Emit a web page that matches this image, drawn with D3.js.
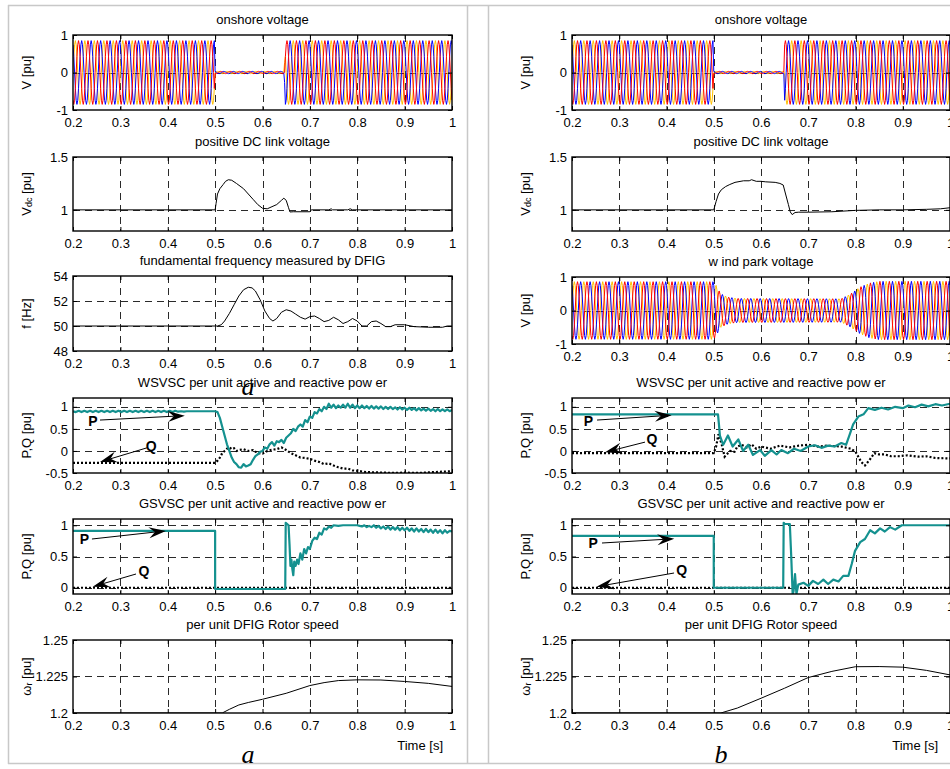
<!DOCTYPE html>
<html><head><meta charset="utf-8">
<script src="https://cdn.jsdelivr.net/npm/d3@7"></script>
<style>
body{margin:0;background:#fff}
svg{display:block}
text{font-family:"Liberation Sans",Arial,Helvetica,sans-serif;fill:#000}
</style>
</head><body><script>
// ---------------- tick labels ----------------
const xTickValues = [0.2,0.3,0.4,0.5,0.6,0.7,0.8,0.9,1.0];
const xTickLabels = ["0.2","0.3","0.4","0.5","0.6","0.7","0.8","0.9","1"];
const xGridValues = [0.3,0.4,0.5,0.6,0.7,0.8,0.9];
const voltTicks = [-1,0,1];            const voltTickLabels = ["-1","0","1"];
const vdcTicks = [1,1.5];              const vdcTickLabels = ["1","1.5"];
const freqTicks = [48,50,52,54];       const freqTickLabels = ["48","50","52","54"];
const wsTicks = [-0.5,0,0.5,1];        const wsTickLabels = ["-0.5","0","0.5","1"];
const gsTicks = [0,0.5,1];             const gsTickLabels = ["0","0.5","1"];
const wrTicks = [1.2,1.225,1.25];      const wrTickLabels = ["1.2","1.225","1.25"];

// ---------------- three-phase voltage data ----------------
// one 50 Hz cycle, 12 samples (per-unit shape)
const cycleShape = [0,0.5,0.87,1,0.87,0.5,0,-0.5,-0.87,-1,-0.87,-0.5];
const phaseOffsets = [0,4,8];
const phaseColors = ["#FFC000","#0000FF","#FF0000"];
const samplesPerSecond = 600;
// envelope (peak amplitude)
const onshoreEnvA = [[0.2,0.85],[0.4995,0.85],[0.5,0.03],[0.6465,0.03],[0.647,0.85],[1.0,0.85]];
const onshoreEnvB = [[0.2,0.85],[0.4995,0.85],[0.5,0.03],[0.6485,0.03],[0.649,0.85],[1.0,0.85]];
const windParkEnvB = [[0.2,0.86],[0.5,0.86],[0.505,0.75],[0.515,0.5],[0.53,0.4],[0.55,0.36],[0.77,0.35],[0.79,0.5],[0.81,0.7],[0.83,0.82],[0.85,0.87],[1.0,0.87]];

// ---------------- DC link voltage ----------------
const vdcA = [[0.2,1.0],[0.5,1.0],[0.502,1.06],[0.505,1.15],[0.51,1.2],[0.517,1.24],[0.522,1.27],[0.528,1.285],[0.535,1.28],[0.545,1.25],[0.56,1.2],[0.57,1.15],[0.58,1.1],[0.59,1.05],[0.6,1.015],[0.61,1.01],[0.62,1.03],[0.63,1.05],[0.64,1.09],[0.645,1.11],[0.65,1.09],[0.655,1.02],[0.658,0.98],[0.665,0.982],[0.7,0.982],[0.703,1.0],[0.74,1.0],[0.745,1.01],[0.748,1.0],[0.78,1.0],[0.785,1.01],[0.79,1.0],[1.0,1.0]];
const vdcB = [[0.2,1.0],[0.5,1.0],[0.505,1.08],[0.51,1.15],[0.516,1.19],[0.525,1.22],[0.534,1.24],[0.545,1.26],[0.563,1.275],[0.575,1.275],[0.58,1.285],[0.59,1.27],[0.6,1.27],[0.61,1.265],[0.63,1.26],[0.64,1.25],[0.647,1.235],[0.652,1.15],[0.658,1.05],[0.662,0.98],[0.666,0.955],[0.672,0.975],[0.68,0.978],[0.7,0.978],[0.75,0.982],[0.8,0.995],[0.85,1.0],[0.9,1.0],[0.95,1.005],[0.98,1.01],[1.0,1.02]];

// ---------------- frequency measured by DFIG ----------------
const freqA = [[0.2,50],[0.505,50],[0.513,50.1],[0.52,50.4],[0.53,51.0],[0.54,51.7],[0.55,52.4],[0.56,52.9],[0.57,53.1],[0.578,53.05],[0.585,52.8],[0.595,52.1],[0.605,51.2],[0.615,50.6],[0.622,50.4],[0.63,50.6],[0.64,51.1],[0.65,51.3],[0.66,51.2],[0.67,50.95],[0.68,50.7],[0.69,50.55],[0.7,50.75],[0.71,50.8],[0.72,50.6],[0.73,50.35],[0.74,50.45],[0.75,50.7],[0.76,50.5],[0.77,50.2],[0.78,50.35],[0.79,50.6],[0.8,50.4],[0.81,50.0],[0.82,50.0],[0.83,50.35],[0.84,50.4],[0.85,50.2],[0.86,49.95],[0.87,49.95],[0.88,50.1],[0.9,50.1],[0.92,49.95],[0.95,49.9],[0.98,49.9],[0.99,50.0],[1.0,50.0]];

// ---------------- WSVSC active / reactive power ----------------
const wsPA = [[0.200,0.90],[0.206,0.88],[0.212,0.91],[0.218,0.88],[0.224,0.91],[0.230,0.88],[0.236,0.91],[0.242,0.88],[0.248,0.91],[0.254,0.88],[0.260,0.91],[0.266,0.88],[0.272,0.91],[0.278,0.88],[0.284,0.91],[0.290,0.88],[0.296,0.91],[0.302,0.88],[0.308,0.91],[0.314,0.88],[0.320,0.91],[0.326,0.88],[0.332,0.91],[0.338,0.88],[0.344,0.91],[0.350,0.88],[0.356,0.91],[0.362,0.88],[0.368,0.91],[0.374,0.88],[0.380,0.91],[0.386,0.88],[0.392,0.91],[0.398,0.88],[0.404,0.91],[0.410,0.88],[0.416,0.91],[0.422,0.89],[0.428,0.90],[0.434,0.89],[0.44,0.90],[0.5,0.90],[0.505,0.88],[0.51,0.75],[0.515,0.55],[0.52,0.35],[0.525,0.15],[0.53,0.0],[0.535,-0.15],[0.54,-0.25],[0.545,-0.3],[0.55,-0.37],[0.555,-0.38],[0.56,-0.3],[0.565,-0.35],[0.57,-0.33],[0.575,-0.3],[0.58,-0.2],[0.585,-0.12],[0.59,-0.08],[0.595,-0.02],[0.6,0.0],[0.605,0.08],[0.61,0.05],[0.615,0.15],[0.62,0.2],[0.625,0.12],[0.63,0.22],[0.635,0.2],[0.64,0.25],[0.645,0.18],[0.65,0.3],[0.655,0.35],[0.66,0.4],[0.665,0.5],[0.67,0.45],[0.675,0.55],[0.68,0.6],[0.685,0.55],[0.69,0.7],[0.695,0.65],[0.7,0.78],[0.705,0.75],[0.71,0.88],[0.715,0.85],[0.72,0.95],[0.725,0.9],[0.73,1.0],[0.735,0.95],[0.74,1.07],[0.745,0.98],[0.75,1.05],[0.755,0.97],[0.76,1.03],[0.765,0.98],[0.77,1.05],[0.775,0.98],[0.78,1.07],[0.785,0.98],[0.79,1.05],[0.795,0.97],[0.8,1.03],[0.805,0.97],[0.81,1.03],[0.815,0.97],[0.82,1.02],[0.825,0.96],[0.83,1.02],[0.835,0.96],[0.84,1.01],[0.845,0.96],[0.85,1.01],[0.855,0.95],[0.86,1.0],[0.865,0.95],[0.87,1.0],[0.875,0.95],[0.88,0.99],[0.885,0.94],[0.89,0.99],[0.895,0.94],[0.9,0.98],[0.905,0.93],[0.91,0.98],[0.915,0.93],[0.92,0.97],[0.925,0.92],[0.93,0.97],[0.935,0.92],[0.94,0.96],[0.945,0.91],[0.95,0.96],[0.955,0.91],[0.96,0.95],[0.965,0.9],[0.97,0.95],[0.975,0.9],[0.98,0.94],[0.985,0.9],[0.99,0.94],[0.995,0.9],[1.0,0.93]];
const wsQA = [[0.2,-0.27],[0.5,-0.27],[0.505,-0.22],[0.51,-0.15],[0.515,-0.05],[0.52,0.0],[0.525,0.05],[0.53,0.08],[0.535,0.04],[0.54,0.06],[0.545,0.0],[0.55,0.02],[0.56,0.04],[0.57,0.0],[0.58,0.02],[0.59,-0.05],[0.6,-0.06],[0.61,0.0],[0.62,0.03],[0.63,0.04],[0.64,0.08],[0.65,0.02],[0.66,-0.05],[0.67,-0.1],[0.68,-0.15],[0.69,-0.16],[0.7,-0.18],[0.71,-0.22],[0.72,-0.25],[0.73,-0.3],[0.74,-0.28],[0.75,-0.33],[0.76,-0.37],[0.77,-0.4],[0.78,-0.4],[0.79,-0.44],[0.8,-0.45],[0.82,-0.48],[0.85,-0.49],[0.88,-0.5],[0.9,-0.49],[0.93,-0.5],[0.96,-0.48],[1.0,-0.46]];
const wsPB = [[0.2,0.83],[0.509,0.83],[0.511,0.6],[0.513,0.35],[0.52,0.14],[0.53,0.35],[0.54,0.1],[0.552,0.26],[0.562,0.0],[0.573,0.14],[0.583,-0.09],[0.598,0.02],[0.608,-0.11],[0.622,0.02],[0.633,-0.08],[0.643,0.02],[0.657,-0.05],[0.67,0.05],[0.684,0.0],[0.7,0.1],[0.714,0.13],[0.728,0.07],[0.742,0.12],[0.756,0.1],[0.77,0.18],[0.78,0.14],[0.788,0.38],[0.795,0.6],[0.806,0.78],[0.817,0.83],[0.827,0.97],[0.841,0.93],[0.855,0.98],[0.869,0.94],[0.884,1.0],[0.9,0.97],[0.912,1.03],[0.926,0.99],[0.94,1.05],[0.954,1.01],[0.969,1.06],[0.983,1.03],[1.0,1.07]];
const wsQB = [[0.2,-0.05],[0.5,-0.05],[0.505,0.1],[0.51,0.38],[0.517,0.14],[0.523,-0.13],[0.53,-0.05],[0.535,0.0],[0.544,-0.02],[0.55,0.1],[0.559,0.14],[0.57,0.08],[0.58,0.15],[0.59,0.05],[0.6,0.1],[0.62,0.05],[0.64,0.12],[0.66,0.08],[0.68,0.12],[0.7,0.14],[0.72,0.1],[0.74,0.12],[0.77,0.1],[0.79,0.05],[0.8,-0.02],[0.806,-0.13],[0.812,-0.25],[0.82,-0.33],[0.83,-0.2],[0.84,-0.05],[0.85,-0.08],[0.862,-0.08],[0.875,-0.12],[0.89,-0.12],[0.91,-0.1],[0.933,-0.13],[0.95,-0.12],[0.969,-0.16],[1.0,-0.17]];

// ---------------- GSVSC active / reactive power ----------------
const gsPA = [[0.2,0.91],[0.5,0.91],[0.5,-0.02],[0.648,-0.02],[0.649,1.04],[0.652,1.02],[0.655,1.0],[0.657,0.7],[0.659,0.35],[0.661,0.45],[0.663,0.3],[0.665,0.2],[0.667,0.42],[0.67,0.35],[0.673,0.45],[0.676,0.38],[0.68,0.55],[0.684,0.45],[0.688,0.62],[0.692,0.55],[0.696,0.65],[0.7,0.62],[0.705,0.75],[0.71,0.8],[0.715,0.78],[0.72,0.88],[0.725,0.85],[0.73,0.95],[0.735,0.93],[0.74,0.98],[0.745,0.96],[0.75,1.0],[0.76,0.99],[0.77,1.0],[0.8,1.0],[0.805,0.99],[0.81,0.98],[0.815,1.0],[0.82,0.97],[0.825,0.99],[0.83,0.97],[0.835,1.0],[0.84,0.96],[0.845,0.99],[0.85,0.95],[0.855,0.98],[0.86,0.94],[0.865,0.98],[0.87,0.93],[0.875,0.97],[0.88,0.93],[0.885,0.97],[0.89,0.92],[0.895,0.96],[0.9,0.92],[0.905,0.96],[0.91,0.91],[0.915,0.95],[0.92,0.9],[0.925,0.95],[0.93,0.9],[0.935,0.94],[0.94,0.89],[0.945,0.94],[0.95,0.89],[0.955,0.93],[0.96,0.88],[0.965,0.93],[0.97,0.88],[0.975,0.92],[0.98,0.87],[0.985,0.92],[0.99,0.88],[0.995,0.91],[1.0,0.9]];
const gsQA = [[0.2,0.0],[1.0,0.0]];
const gsPB = [[0.2,0.83],[0.5,0.83],[0.5,0.0],[0.647,0.0],[0.648,1.04],[0.65,1.02],[0.661,1.02],[0.664,0.5],[0.667,-0.11],[0.669,-0.05],[0.672,0.22],[0.675,-0.1],[0.679,0.05],[0.69,0.08],[0.7,0.03],[0.71,0.11],[0.721,0.06],[0.732,0.13],[0.742,0.06],[0.753,0.13],[0.764,0.1],[0.774,0.19],[0.785,0.19],[0.792,0.38],[0.799,0.59],[0.81,0.73],[0.82,0.78],[0.831,0.92],[0.841,0.87],[0.852,0.95],[0.862,0.9],[0.873,0.97],[0.884,0.93],[0.898,1.0],[0.912,1.0],[0.926,1.0],[1.0,1.0]];
const gsQB = [[0.2,0.0],[1.0,0.0]];

// ---------------- rotor speed ----------------
const wrA = [[0.2,1.2],[0.515,1.2],[0.53,1.2025],[0.55,1.2055],[0.57,1.2072],[0.6,1.2094],[0.65,1.2135],[0.7,1.2188],[0.73,1.2208],[0.76,1.2222],[0.8,1.2227],[0.85,1.2226],[0.9,1.2216],[0.95,1.2203],[1.0,1.2182]];
const wrB = [[0.2,1.2],[0.515,1.2],[0.55,1.2034],[0.6,1.2101],[0.65,1.217],[0.7,1.2243],[0.75,1.2285],[0.8,1.2317],[0.85,1.2318],[0.9,1.2314],[0.95,1.2292],[1.0,1.2261]];

// ---------------- P / Q arrow annotations (data coordinates) ----------------
const wsArrowsA = [{label:"P",lx:0.242,ly:0.69,from:[0.257,0.70],to:[0.436,0.80]},{label:"Q",lx:0.365,ly:0.11,from:[0.356,0.07],to:[0.257,-0.25]}];
const wsArrowsB = [{label:"P",lx:0.2345,ly:0.69,from:[0.253,0.70],to:[0.411,0.81]},{label:"Q",lx:0.369,ly:0.263,from:[0.3545,0.2],to:[0.270,-0.03]}];
const gsArrowsA = [{label:"P",lx:0.224,ly:0.775,from:[0.240,0.78],to:[0.396,0.91]},{label:"Q",lx:0.350,ly:0.268,from:[0.333,0.22],to:[0.2416,0.017]}];
const gsArrowsB = [{label:"P",lx:0.245,ly:0.711,from:[0.2635,0.716],to:[0.4165,0.784]},{label:"Q",lx:0.432,ly:0.284,from:[0.416,0.236],to:[0.252,0.017]}];

// ======================================================================
const W = 950, H = 769;
const svg = d3.select("body").append("svg").attr("width", W).attr("height", H);
const TEAL = "#14918F";

// panel frames (table-like border)
const frame = svg.append("g").attr("stroke","#c8c8c8").attr("stroke-width",1.5).attr("fill","none");
frame.append("line").attr("x1",8).attr("x2",950).attr("y1",5.5).attr("y2",5.5);
frame.append("line").attr("x1",8).attr("x2",950).attr("y1",763.5).attr("y2",763.5);
[8.5,467.5,488.5].forEach(xv => frame.append("line").attr("x1",xv).attr("x2",xv).attr("y1",5).attr("y2",764));

const panels = {A:[73,452], B:[572,950]};
const rows = [[35,110],[157,231],[276,351],[398,473],[519,594],[640,713]];
let clipN = 0;

function makeWave(env, tStart, tEnd){
  const e = d3.scaleLinear().domain(env.map(d=>d[0])).range(env.map(d=>d[1])).clamp(true);
  const n = Math.round((tEnd - tStart) * samplesPerSecond);
  return phaseOffsets.map(off => d3.range(n + 1).map(i => {
    const t = tStart + i / samplesPerSecond;
    return [t, e(t) * cycleShape[(i + off) % cycleShape.length]];
  }));
}

function plot(cfg){
  const [x0,x1] = panels[cfg.panel];
  const [y0,y1] = cfg.rowRange || rows[cfg.row];
  const x = d3.scaleLinear().domain([0.2,1.0]).range([x0,x1]);
  const y = d3.scaleLinear().domain(cfg.yDomain).range([y1,y0]);
  const g = svg.append("g");
  const id = "clip" + (clipN++);
  svg.append("clipPath").attr("id",id).append("rect")
    .attr("x",x0).attr("y",y0).attr("width",x1-x0).attr("height",y1-y0);

  g.append("text").attr("x",(x0+x1)/2).attr("y",y0-11).attr("text-anchor","middle")
    .attr("font-size",13).text(cfg.title);

  const grid = g.append("g").attr("stroke","#2a2a2a").attr("stroke-width",1).attr("stroke-dasharray","7,5");
  xGridValues.forEach(v => grid.append("line")
    .attr("x1",Math.round(x(v))+0.5).attr("x2",Math.round(x(v))+0.5).attr("y1",y0).attr("y2",y1));
  cfg.yGrid.forEach(v => grid.append("line")
    .attr("x1",x0).attr("x2",x1).attr("y1",Math.round(y(v))+0.5).attr("y2",Math.round(y(v))+0.5));

  const dg = g.append("g").attr("clip-path",`url(#${id})`);
  cfg.draw(dg, x, y);

  const xa = g.append("g").attr("transform",`translate(0,${y1})`)
    .call(d3.axisBottom(x).tickValues(xTickValues).tickFormat((d,i)=>xTickLabels[i])
      .tickSizeInner(-4).tickSizeOuter(0).tickPadding(8));
  const ya = g.append("g").attr("transform",`translate(${x0},0)`)
    .call(d3.axisLeft(y).tickValues(cfg.yTicks).tickFormat((d,i)=>cfg.yTickLabels[i])
      .tickSizeInner(-4).tickSizeOuter(0).tickPadding(5));
  g.append("g").attr("transform",`translate(0,${y0})`)
    .call(d3.axisTop(x).tickValues(xTickValues).tickFormat("").tickSizeInner(-4).tickSizeOuter(0));
  g.append("g").attr("transform",`translate(${x1},0)`)
    .call(d3.axisRight(y).tickValues(cfg.yTicks).tickFormat("").tickSizeInner(-4).tickSizeOuter(0));
  g.selectAll(".domain").remove();
  g.selectAll(".tick line").attr("stroke","#000");
  [xa,ya].forEach(a => a.selectAll("text").attr("font-size",13)
    .attr("font-family",'"Liberation Sans",Arial,sans-serif'));

  g.append("rect").attr("x",x0).attr("y",y0).attr("width",x1-x0).attr("height",y1-y0)
    .attr("fill","none").attr("stroke","#000").attr("stroke-width",1.4);

  const yl = g.append("text").attr("transform",`translate(${x0-47},${(y0+y1)/2}) rotate(-90)`)
    .attr("text-anchor","middle").attr("dominant-baseline","central").attr("font-size",13);
  cfg.ylabel(yl);
  return {x, y, g};
}

function lineGen(x,y){ return d3.line().x(d=>x(d[0])).y(d=>y(d[1])); }

function drawWave(env){
  return (g,x,y) => {
    const waves = makeWave(env, 0.2, 1.0);
    waves.forEach((w,k) => g.append("path").attr("d", lineGen(x,y)(w))
      .attr("fill","none").attr("stroke",phaseColors[k]).attr("stroke-width",1));
  };
}
function drawSingle(data){
  return (g,x,y) => g.append("path").attr("d", lineGen(x,y)(data))
    .attr("fill","none").attr("stroke","#000").attr("stroke-width",1);
}
function drawPQ(P,Q,arrows){
  return (g,x,y) => {
    g.append("path").attr("d", lineGen(x,y)(Q)).attr("fill","none").attr("stroke","#000")
      .attr("stroke-width",2.2).attr("stroke-dasharray","2,2");
    g.append("path").attr("d", lineGen(x,y)(P)).attr("fill","none").attr("stroke",TEAL)
      .attr("stroke-width",2.2).attr("stroke-linejoin","round");
    arrows.forEach(a => drawArrow(g, x, y, a));
  };
}
function drawArrow(g,x,y,a){
  const x1 = x(a.from[0]), y1 = y(a.from[1]), x2 = x(a.to[0]), y2 = y(a.to[1]);
  const ang = Math.atan2(y2-y1, x2-x1);
  const L = 17, Wd = 5.5, N = 11;
  const ux = Math.cos(ang), uy = Math.sin(ang), px = -uy, py = ux;
  g.append("line").attr("x1",x1).attr("y1",y1).attr("x2",x2-ux*N).attr("y2",y2-uy*N)
    .attr("stroke","#000").attr("stroke-width",1);
  const pts = [[x2,y2],[x2-ux*L+px*Wd, y2-uy*L+py*Wd],[x2-ux*N, y2-uy*N],[x2-ux*L-px*Wd, y2-uy*L-py*Wd]];
  g.append("path").attr("d","M"+pts.map(p=>p.join(",")).join("L")+"Z").attr("fill","#000");
  g.append("text").attr("x",x(a.lx)).attr("y",y(a.ly)).attr("text-anchor","middle")
    .attr("dominant-baseline","central").attr("font-size",14).attr("font-weight","bold").text(a.label);
}

const vLabel = t => t.text("V [pu]");
const vdcLabel = t => { t.append("tspan").text("V"); t.append("tspan").attr("font-size",9).attr("dy",3).text("dc");
  t.append("tspan").attr("dy",-3).text(" [pu]"); };
const fLabel = t => t.text("f [Hz]");
const pqLabel = t => t.text("P,Q [pu]");
const wrLabel = t => { t.append("tspan").text("\u03C9"); t.append("tspan").attr("font-size",9).attr("dy",3).text("r");
  t.append("tspan").attr("dy",-3).text(" [pu]"); };

// ---------- panel a ----------
plot({panel:"A",row:0,title:"onshore voltage",yDomain:[-1,1],yTicks:voltTicks,yTickLabels:voltTickLabels,yGrid:[0],ylabel:vLabel,draw:drawWave(onshoreEnvA)});
plot({panel:"A",row:1,title:"positive DC link voltage",yDomain:[0.8,1.5],yTicks:vdcTicks,yTickLabels:vdcTickLabels,yGrid:[1],ylabel:vdcLabel,draw:drawSingle(vdcA)});
plot({panel:"A",row:2,title:"fundamental frequency measured by DFIG",yDomain:[48,54],yTicks:freqTicks,yTickLabels:freqTickLabels,yGrid:[50,52],ylabel:fLabel,draw:drawSingle(freqA)});
plot({panel:"A",row:3,title:"WSVSC per unit active and reactive pow er",yDomain:[-0.5,1.2],yTicks:wsTicks,yTickLabels:wsTickLabels,yGrid:[0,0.5,1],ylabel:pqLabel,draw:drawPQ(wsPA,wsQA,wsArrowsA)});
plot({panel:"A",row:4,title:"GSVSC per unit active and reactive pow er",yDomain:[-0.1,1.1],yTicks:gsTicks,yTickLabels:gsTickLabels,yGrid:[0,0.5,1],ylabel:pqLabel,draw:drawPQ(gsPA,gsQA,gsArrowsA)});
plot({panel:"A",row:5,title:"per unit DFIG Rotor speed",yDomain:[1.2,1.25],yTicks:wrTicks,yTickLabels:wrTickLabels,yGrid:[1.225],ylabel:wrLabel,draw:drawSingle(wrA)});

// ---------- panel b ----------
plot({panel:"B",row:0,title:"onshore voltage",yDomain:[-1,1],yTicks:voltTicks,yTickLabels:voltTickLabels,yGrid:[0],ylabel:vLabel,draw:drawWave(onshoreEnvB)});
plot({panel:"B",row:1,title:"positive DC link voltage",yDomain:[0.8,1.5],yTicks:vdcTicks,yTickLabels:vdcTickLabels,yGrid:[1],ylabel:vdcLabel,draw:drawSingle(vdcB)});
plot({panel:"B",row:2,rowRange:[277,344],title:"w ind park voltage",yDomain:[-1,1],yTicks:voltTicks,yTickLabels:voltTickLabels,yGrid:[0],ylabel:vLabel,draw:drawWave(windParkEnvB)});
plot({panel:"B",row:3,title:"WSVSC per unit active and reactive pow er",yDomain:[-0.5,1.2],yTicks:wsTicks,yTickLabels:wsTickLabels,yGrid:[0,0.5,1],ylabel:pqLabel,draw:drawPQ(wsPB,wsQB,wsArrowsB)});
plot({panel:"B",row:4,title:"GSVSC per unit active and reactive pow er",yDomain:[-0.1,1.1],yTicks:gsTicks,yTickLabels:gsTickLabels,yGrid:[0,0.5,1],ylabel:pqLabel,draw:drawPQ(gsPB,gsQB,gsArrowsB)});
plot({panel:"B",row:5,title:"per unit DFIG Rotor speed",yDomain:[1.2,1.25],yTicks:wrTicks,yTickLabels:wrTickLabels,yGrid:[1.225],ylabel:wrLabel,draw:drawSingle(wrB)});

// time labels and figure letters
svg.append("text").attr("x",443).attr("y",750).attr("text-anchor","end").attr("font-size",13).text("Time [s]");
svg.append("text").attr("x",938).attr("y",750).attr("text-anchor","end").attr("font-size",13).text("Time [s]");
const serif = '"Liberation Serif","Times New Roman",serif';
svg.append("text").attr("x",248).attr("y",395).attr("text-anchor","middle").attr("font-size",26)
  .attr("font-style","italic").style("font-family",serif).text("a");
svg.append("text").attr("x",248).attr("y",763).attr("text-anchor","middle").attr("font-size",26)
  .attr("font-style","italic").style("font-family",serif).text("a");
svg.append("text").attr("x",721).attr("y",763).attr("text-anchor","middle").attr("font-size",26)
  .attr("font-style","italic").style("font-family",serif).text("b");
</script></body></html>
